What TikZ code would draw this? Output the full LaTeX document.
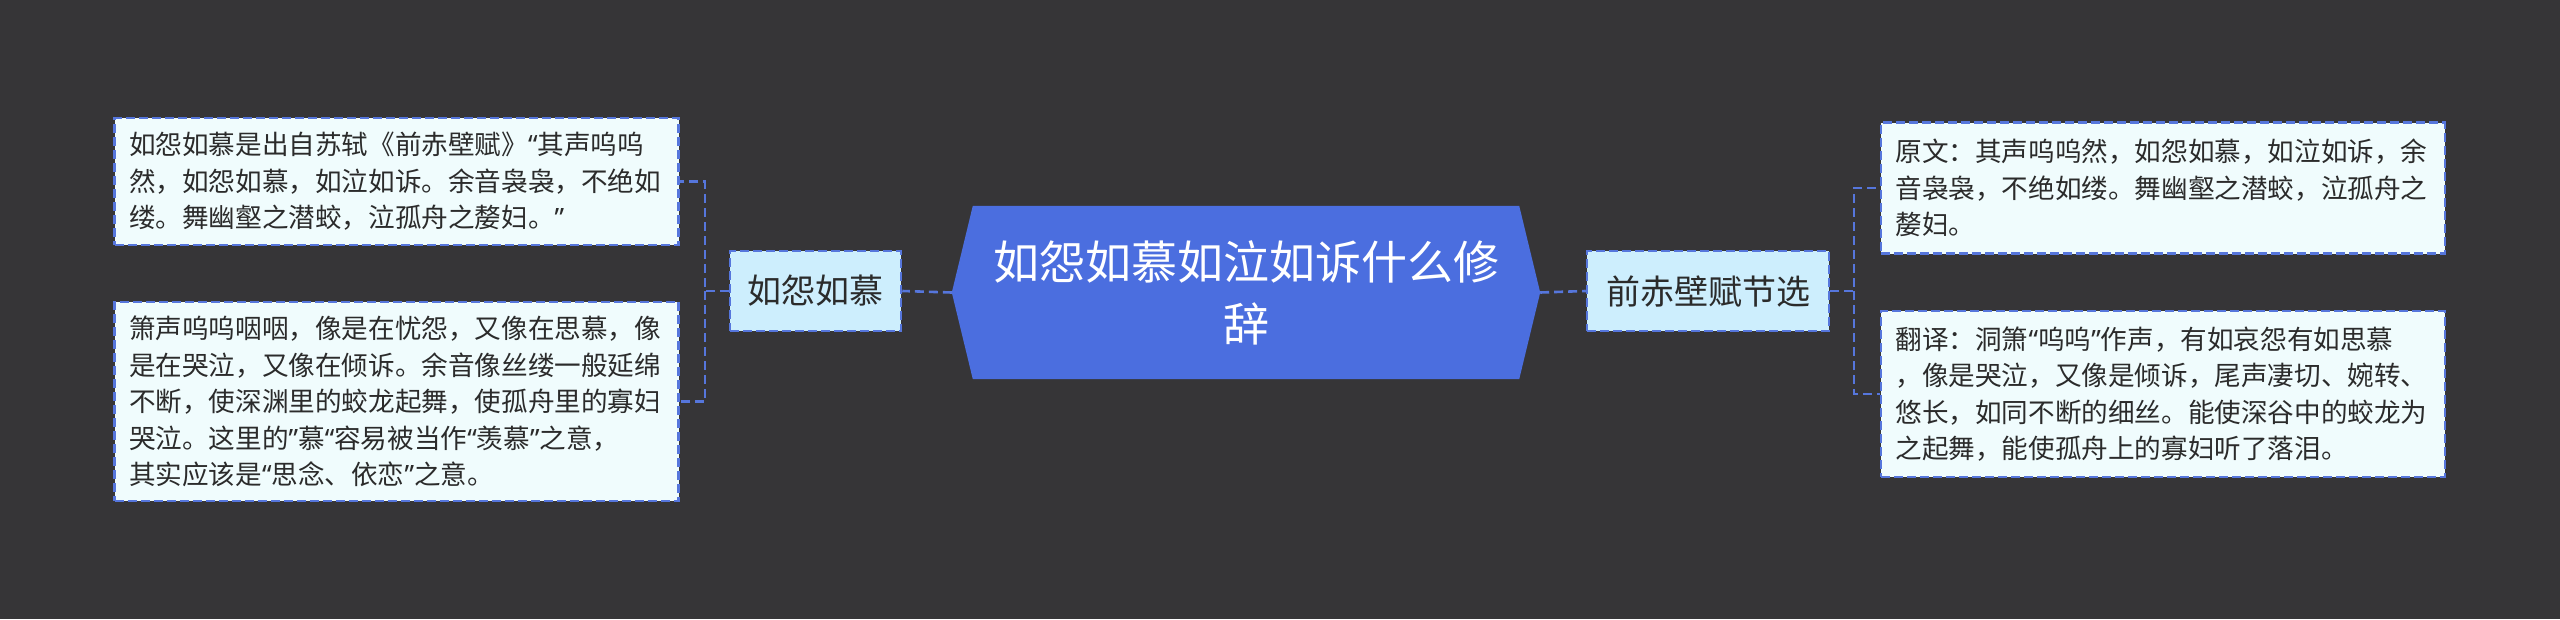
\documentclass[tikz,border=0pt]{standalone}
\usepackage{fontspec}
\newfontfamily\cjk{Noto Sans CJK SC}
\newfontfamily\qfont{Noto Sans}
\newcommand\myoq{{\qfont “}}
\newcommand\mycq{{\qfont ”}}
\definecolor{bgc}{HTML}{363537}
\definecolor{mainblue}{HTML}{4B6EDF}
\definecolor{linec}{HTML}{5676DC}
\definecolor{midfill}{HTML}{CDEEFD}
\definecolor{leaffill}{HTML}{F0FCFD}
\definecolor{txt}{HTML}{2B2B2B}
\begin{document}
\begin{tikzpicture}[x=1pt,y=-1pt,
  conn/.style={draw=linec,line width=2.6pt,dash pattern=on 9pt off 5pt},
  midbox/.style={draw=linec,line width=2.5pt,dash pattern=on 9pt off 4pt,fill=midfill,
    font=\cjk\fontsize{34}{44}\selectfont,text=txt,inner sep=0pt,
    minimum height=80pt},
  leafbox/.style={draw=linec,line width=2.5pt,dash pattern=on 9pt off 4pt,fill=leaffill,
    font=\cjk\fontsize{26.6}{36.5}\selectfont,text=txt,align=left,
    text width=535pt,inner xsep=14pt,inner ysep=0pt,minimum width=564pt},
  centerbox/.style={minimum width=588pt,minimum height=173pt,inner sep=0pt},
  centertext/.style={font=\cjk\fontsize{46}{62}\selectfont,text=white,align=center}
]
\fill[bgc] (0,0) rectangle (2560,619);
\useasboundingbox (0,0) rectangle (2560,619);

% centre
\node[centerbox] (c) at (1246,292.5) {};
\fill[mainblue] ([xshift=21pt]c.north west) -- ([xshift=-21pt]c.north east) -- (c.east)
  -- ([xshift=-21pt]c.south east) -- ([xshift=21pt]c.south west) -- (c.west) -- cycle;
\node[centertext] (ct) at (1246,292.5) {如怨如慕如泣如诉什么修\\辞};

% middle nodes
\node[midbox,minimum width=171pt] (ml) at (815.5,291) {如怨如慕};
\node[midbox,minimum width=242pt] (mr) at (1708,291) {前赤壁赋节选};

% leaves
\node[leafbox,minimum height=127pt] (l1) at (396.5,181.5) {如怨如慕是出自苏轼《前赤壁赋》\myoq 其声呜呜\\然，如怨如慕，如泣如诉。余音袅袅，不绝如\\缕。舞幽壑之潜蛟，泣孤舟之嫠妇。\mycq};
\node[leafbox,minimum height=199pt] (l2) at (396.5,401.5) {箫声呜呜咽咽，像是在忧怨，又像在思慕，像\\是在哭泣，又像在倾诉。余音像丝缕一般延绵\\不断，使深渊里的蛟龙起舞，使孤舟里的寡妇\\哭泣。这里的\mycq 慕\myoq 容易被当作\myoq 羡慕\mycq 之意，\\其实应该是\myoq 思念、依恋\mycq 之意。};
\node[leafbox,minimum height=131pt] (r1) at (2163,188) {原文：其声呜呜然，如怨如慕，如泣如诉，余\\音袅袅，不绝如缕。舞幽壑之潜蛟，泣孤舟之\\嫠妇。};
\node[leafbox,minimum height=166pt] (r2) at (2163,394) {翻译：洞箫\myoq 呜呜\mycq 作声，有如哀怨有如思慕\\，像是哭泣，又像是倾诉，尾声凄切、婉转、\\悠长，如同不断的细丝。能使深谷中的蛟龙为\\之起舞，能使孤舟上的寡妇听了落泪。};

% connectors
\coordinate (lj) at (705,291);
\coordinate (rj) at (1854,291);
\draw[conn] (c.west) -- (ml.east);
\draw[conn] (c.east) -- (mr.west);
\draw[conn] (ml.west) -- (lj) |- (l1.east);
\draw[conn] (lj) |- (l2.east);
\draw[conn] (mr.east) -- (rj) |- (r1.west);
\draw[conn] (rj) |- (r2.west);
\end{tikzpicture}
\end{document}
